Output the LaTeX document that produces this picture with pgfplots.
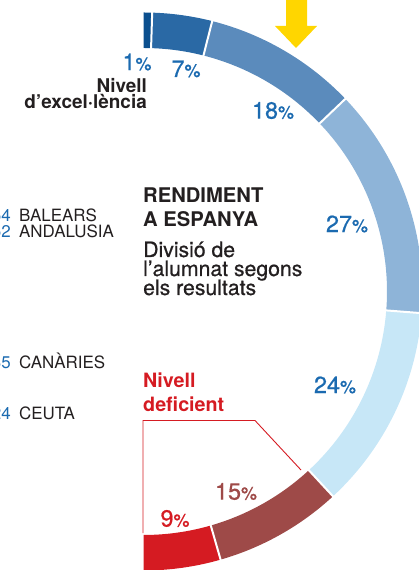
\documentclass[border=0pt]{standalone}
\usepackage{pgfplots}
\pgfplotsset{compat=1.18}
\usepackage{fontspec}
\setmainfont{TeX Gyre Heros}
\newfontfamily\medfont[FakeBold=0.7]{TeX Gyre Heros}
\definecolor{cA}{HTML}{0B4F8E}
\definecolor{cB}{HTML}{2A69A5}
\definecolor{cC}{HTML}{5B8BBC}
\definecolor{cD}{HTML}{8EB4D8}
\definecolor{cE}{HTML}{C7E7F7}
\definecolor{cF}{HTML}{9E4A48}
\definecolor{cG}{HTML}{D51B22}
\definecolor{tblue}{HTML}{1B6AB0}
\definecolor{tdark}{HTML}{231F20}
\definecolor{ayel}{HTML}{FFD600}
% #1 cumulative before, #2 value (%), #3 colour ; total = 101 -> half circle
\newcommand{\seg}[3]{%
  \fill[#3] (axis cs:{143.5+279*cos(90-180/101*#1)},{278.5+279*sin(90-180/101*#1)})
    arc[start angle={90-180/101*#1}, end angle={90-180/101*(#1+#2)}, radius=279bp]
    -- (axis cs:{143.5+243.5*cos(90-180/101*(#1+#2))},{278.5+243.5*sin(90-180/101*(#1+#2))})
    arc[start angle={90-180/101*(#1+#2)}, end angle={90-180/101*#1}, radius=243.5bp]
    -- cycle;}
\newcommand{\sep}[1]{%
  \draw[white, line width=2bp] (axis cs:{143.5+240*cos(90-180/101*#1)},{278.5+240*sin(90-180/101*#1)})
    -- (axis cs:{143.5+283*cos(90-180/101*#1)},{278.5+283*sin(90-180/101*#1)});}
\newcommand{\pct}[1]{\medfont{\fontsize{23.5}{23.5}\selectfont #1}{\fontsize{18}{18}\selectfont\%}}
\begin{document}
\begin{tikzpicture}
\begin{axis}[x=1bp, y=1bp, xmin=0, xmax=418, ymin=0, ymax=570,
  disabledatascaling, axis lines=none, ticks=none, clip=false]
\coordinate (BL) at (axis cs:0,0);
\coordinate (TR) at (axis cs:418,570);
% ring segments
\seg{0}{1}{cA}
\seg{1}{7}{cB}
\seg{8}{18}{cC}
\seg{26}{27}{cD}
\seg{53}{24}{cE}
\seg{77}{15}{cF}
\seg{92}{9}{cG}
\sep{1}\sep{8}\sep{26}\sep{53}\sep{77}\sep{92}
% yellow arrow
\fill[ayel] (axis cs:286,576) -- (axis cs:307,576) -- (axis cs:307,544) -- (axis cs:317,544)
  -- (axis cs:296,522) -- (axis cs:275,544) -- (axis cs:286,544) -- cycle;
% percentage labels
\node[inner sep=0, text=tblue] at (axis cs:137,508) {\pct{1}};
\node[inner sep=0, text=tblue] at (axis cs:186,501) {\pct{7}};
\node[inner sep=0, text=tblue] at (axis cs:273,459.5) {\pct{18}};
\node[inner sep=0, text=tblue] at (axis cs:347,346) {\pct{27}};
\node[inner sep=0, text=tblue] at (axis cs:335,185) {\pct{24}};
\node[inner sep=0, text=cF] at (axis cs:236,78.5) {\pct{15}};
\node[inner sep=0, text=cG] at (axis cs:175,51.5) {\pct{9}};
% excellence label
\node[inner sep=0, anchor=base east, text=tdark, font=\fontsize{19}{19}\selectfont\bfseries] at (axis cs:147,477) {Nivell};
\node[inner sep=0, anchor=base east, text=tdark, font=\fontsize{19}{19}\selectfont\bfseries] at (axis cs:147,461) {d’excel·lència};
% title
\node[inner sep=0, anchor=base west, text=tdark, font=\fontsize{20.3}{20.3}\selectfont\bfseries] at (axis cs:143,367) {RENDIMENT};
\node[inner sep=0, anchor=base west, text=tdark, font=\fontsize{20.3}{20.3}\selectfont\bfseries] at (axis cs:143,343) {A ESPANYA};
\node[inner sep=0, anchor=base west, text=tdark, font=\medfont\fontsize{21.3}{21.3}\selectfont] at (axis cs:143,313) {Divisió de};
\node[inner sep=0, anchor=base west, text=tdark, font=\medfont\fontsize{21.3}{21.3}\selectfont] at (axis cs:143,294) {l’alumnat segons};
\node[inner sep=0, anchor=base west, text=tdark, font=\medfont\fontsize{21.3}{21.3}\selectfont] at (axis cs:143,275) {els resultats};
% left list
\node[inner sep=0, anchor=base east, text=tblue, font=\fontsize{17}{17}\selectfont] at (axis cs:11,348) {54};
\node[inner sep=0, anchor=base west, text=tdark, font=\fontsize{17}{17}\selectfont] at (axis cs:19,348) {BALEARS};
\node[inner sep=0, anchor=base east, text=tblue, font=\fontsize{17}{17}\selectfont] at (axis cs:11,332) {52};
\node[inner sep=0, anchor=base west, text=tdark, font=\fontsize{17}{17}\selectfont] at (axis cs:19,332) {ANDALUSIA};
\node[inner sep=0, anchor=base east, text=tblue, font=\fontsize{17}{17}\selectfont] at (axis cs:11,201) {35};
\node[inner sep=0, anchor=base west, text=tdark, font=\fontsize{17}{17}\selectfont] at (axis cs:19,201) {CANÀRIES};
\node[inner sep=0, anchor=base east, text=tblue, font=\fontsize{17}{17}\selectfont] at (axis cs:11,150) {24};
\node[inner sep=0, anchor=base west, text=tdark, font=\fontsize{17}{17}\selectfont] at (axis cs:19,150) {CEUTA};
% deficient label + bracket
\node[inner sep=0, anchor=base west, text=cG, font=\fontsize{19.8}{19.8}\selectfont\bfseries] at (axis cs:143,182) {Nivell};
\node[inner sep=0, anchor=base west, text=cG, font=\fontsize{19.8}{19.8}\selectfont\bfseries] at (axis cs:143,158) {deficient};
\draw[cG, line width=0.9bp] (axis cs:143,37) -- (axis cs:143,149.5) -- (axis cs:255,149.5) -- (axis cs:301,100);
\end{axis}
\pgfresetboundingbox
\useasboundingbox (BL) rectangle (TR);
\end{tikzpicture}
\end{document}
